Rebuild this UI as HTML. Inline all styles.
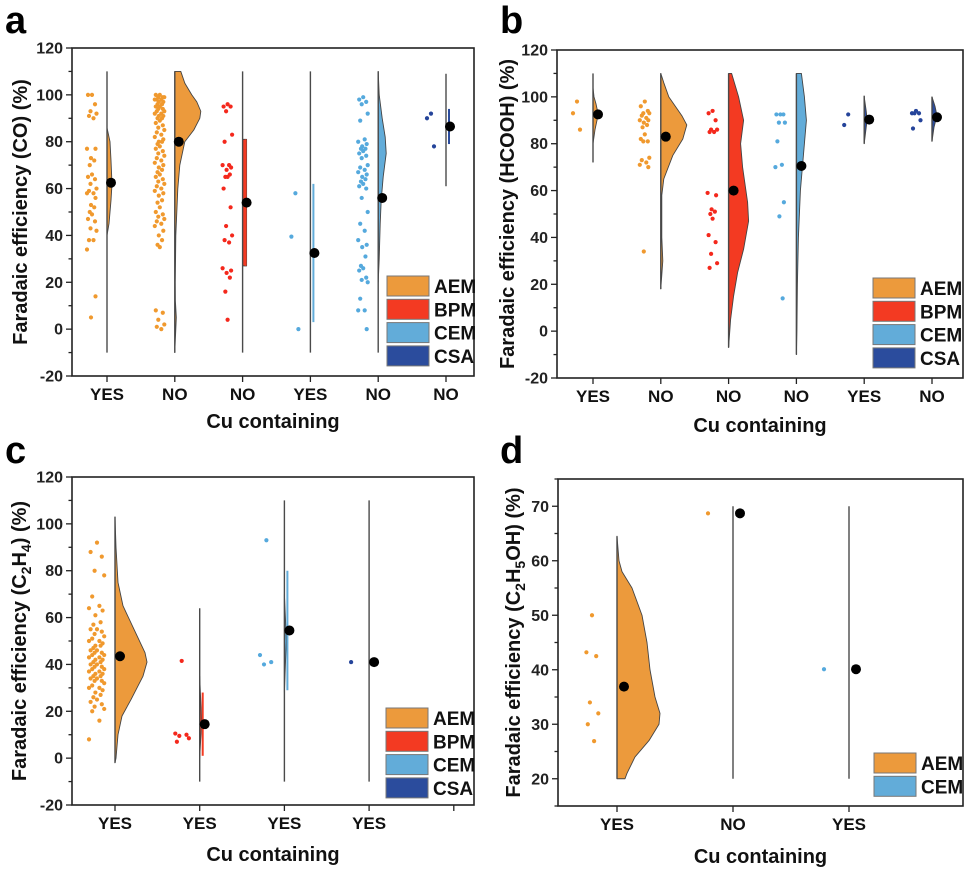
<!DOCTYPE html>
<html><head><meta charset="utf-8"><style>
html,body{margin:0;padding:0;background:#fff;width:969px;height:872px;overflow:hidden}
svg{display:block;font-family:"Liberation Sans",Arial,sans-serif;font-weight:bold}
</style></head><body>
<svg id="fig" width="969" height="872" viewBox="0 0 969 872" xmlns="http://www.w3.org/2000/svg"></svg>
<script>
// ===== Panel a data (CO) =====
const aCats = ['YES','NO','NO','YES','NO','NO'];
const aTypes = ['AEM','AEM','BPM','CEM','CEM','CSA'];
const aMeans = [62.5,80,54,32.5,56,86.5];
const aLineLo = [-10,-10,-10,-10,-10,61];
const aLineHi = [110,110,110,110,110,109];
const aErr = [null,null,[27,81],[3,62],null,[79,94]];
const aPoints = [
 [100,100,96,93,92,91,90,77,77,73,72,70,66,65,64,62,60,59,58,58,56,53,52,50,49,47,46,43,42,38,38,34,14,5],
 [100,100,99,99,99,98,98,98,97,97,96,96,95,95,94,94,93,93,92,92,91,91,90,90,89,88,87,86,85,84,83,82,81,80,80,79,78,77,76,75,74,73,72,71,70,69,68,67,66,65,64,63,62,61,60,59,58,57,55,54,52,50,49,48,47,46,45,44,42,40,38,36,35,8,7,4,2,1,0],
 [96,95,95,93,83,80,70,70,69,68,66,65,65,60,52,44,40,38,37,26,25,24,22,16,4],
 [58,39.5,0],
 [99,98,97,96,92,89,81,80,79,78,77,77,76,75,74,73,70,69,68,67,66,65,64,63,62,61,60,56,50,45,42,38,36,35,31,27,26,25,22,21,20,13,8,8,0],
 [92,90,78]
];
const aViolins = [
 [[40,0],[45,2],[55,4],[62,5],[72,4],[80,3],[86,0]],
 [[-10,0],[0,1],[5,1.5],[12,0.6],[20,0.5],[40,1],[60,3],[70,5],[80,10],[85,19],[90,25],[93,26],[97,22],[100,17],[105,10],[110,6]],
 [[27,0],[27,4],[81,4],[81,0]],
 [],
 [[20,0],[30,1],[45,2],[55,3],[65,5],[75,8],[82,7],[90,4],[100,1],[110,0]],
 []
];
// ===== Panel b data (HCOOH) =====
const bCats = ['YES','NO','NO','NO','YES','NO'];
const bTypes = ['AEM','AEM','BPM','CEM','CSA','CSA'];
const bMeans = [92.5,83,60,70.5,90.3,91.3];
const bLineLo = [72,18,-7,-10,80,81];
const bLineHi = [110,110,110,110,100.5,100];
const bErr = [null,null,null,null,null,null];
const bPoints = [
 [98,93,86],
 [98,96,94,93,93,92,91,90,90,89,88,87,84,82,81,81,74,73,72,71,70,34],
 [94,93,90,86,86,85,85,59,58,52,51,50,48,41,38,33,29,27],
 [92.5,92.5,92.5,89,89,81,71,70,55,49,14],
 [92.5,88],
 [94,93,93,93,90,86.5]
];
const bViolins = [
 [[80,0],[86,2],[90,4],[93,5],[97,3],[100,1],[104,0]],
 [[18,0],[30,2],[40,1],[58,1],[65,3],[75,12],[82,22],[88,26],[92,21],[100,8],[106,3],[110,0]],
 [[-7,0],[5,2],[15,5],[25,9],[35,15],[47,20],[55,19],[70,14],[80,12],[90,15],[100,10],[110,3]],
 [[-10,0],[0,0.5],[20,1],[40,2],[60,4],[70,6],[80,8],[90,10],[100,8],[110,5]],
 [[80,0],[87,2],[90,3],[94,2],[100,0]],
 [[81,0],[87,2],[92,5],[96,3],[100,0]]
];
// ===== Panel c data (C2H4) =====
const cCats = ['YES','YES','YES','YES'];
const cTypes = ['AEM','BPM','CEM','CSA'];
const cMeans = [43.5,14.5,54.5,41];
const cLineLo = [-2,-10,-10,-10];
const cLineHi = [103,64,110,110];
const cErr = [null,[1,28],[29,80],null];
const cPoints = [
 [92,88,86,80,78,69,65,64,63,61,58,57,55,55,54,53,52,51,50,50,49,48,48,47,46,46,45,45,44,44,43,43,42,42,41,41,40,40,39,39,38,38,37,37,36,36,35,35,34,34,33,33,32,31,30,30,29,28,27,26,25,24,23,22,21,20,16,8],
 [41.5,10.5,10,9.5,8.5,7],
 [93,44,41,40],
 [41]
];
const cViolins = [
 [[-2,0],[0,1],[10,3],[18,7],[25,16],[35,28],[41,32],[45,30],[55,19],[65,8],[75,3],[90,1],[103,0]],
 [[0,0],[8,1],[15,2],[25,1],[35,0]],
 [[28,0],[40,1],[50,2],[60,1],[70,0]],
 []
];
// ===== Panel d data (C2H5OH) =====
const dCats = ['YES','NO','YES'];
const dTypes = ['AEM','AEM','CEM'];
const dMeans = [36.9,68.7,40.1];
const dLineLo = [20,20,20];
const dLineHi = [64.5,70,70];
const dErr = [null,null,null];
const dPoints = [[50,43.2,42.5,34,32,30,26.9],[68.7],[40.1]];
const dViolins = [
 [[20,0],[20,8],[21,10],[24,18],[27,32],[30,42],[32,43],[35,38],[40,33],[45,30],[50,25],[55,15],[58,5],[60,2],[64.5,0]],
 [],[]
];

const COLORS = {AEM:'#ec9a3c',BPM:'#f33a22',CEM:'#62acd9',CSA:'#2b4c9d'};
const PTCOL = {AEM:'#f0992e',BPM:'#f4281c',CEM:'#55a9dd',CSA:'#25449a'};
const JIT = [0,-0.8,0.6,-0.3,0.9,-0.6,0.3,-1,0.7,-0.2,0.45,-0.45];
const NS='http://www.w3.org/2000/svg';
const svg=document.getElementById('fig');
function mk(tag,attrs,parent){const e=document.createElementNS(NS,tag);for(const k in attrs)e.setAttribute(k,attrs[k]);(parent||svg).appendChild(e);return e;}

const panels = [
 {id:'a',L:72,R:474,T:48,B:376,ymin:-20,ymax:120,major:20,cx0:107,dx:67.8,nTicks:6,cats:aCats,types:aTypes,means:aMeans,lo:aLineLo,hi:aLineHi,err:aErr,pts:aPoints,vio:aViolins,
  legend:['AEM','BPM','CEM','CSA'],lx:387,ly:276,ytitle:['Faradaic efficiency (CO) (%)'],ytx:20,xlabY:400,xtitY:428,letX:5,letY:33,ptOff:-15,ptSpread:5,meanOff:4},
 {id:'b',L:557,R:963,T:50,B:378,ymin:-20,ymax:120,major:20,cx0:593,dx:67.8,nTicks:6,cats:bCats,types:bTypes,means:bMeans,lo:bLineLo,hi:bLineHi,err:bErr,pts:bPoints,vio:bViolins,
  legend:['AEM','BPM','CEM','CSA'],lx:873,ly:278,ytitle:['Faradaic efficiency (HCOOH) (%)'],ytx:507,xlabY:402,xtitY:432,letX:500,letY:33,ptOff:-16,ptSpread:5,meanOff:5},
 {id:'c',L:72,R:474,T:477,B:805,ymin:-20,ymax:120,major:20,cx0:115,dx:84.7,nTicks:5,cats:cCats,types:cTypes,means:cMeans,lo:cLineLo,hi:cLineHi,err:cErr,pts:cPoints,vio:cViolins,
  legend:['AEM','BPM','CEM','CSA'],lx:386,ly:708,ytitle:'C2H4',ytx:19,xlabY:829,xtitY:861,letX:5,letY:463,ptOff:-18,ptSpread:8,meanOff:5},
 {id:'d',L:558,R:963,T:479,B:806,ymin:15,ymax:75,major:10,cx0:617,dx:116,nTicks:4,cats:dCats,types:dTypes,means:dMeans,lo:dLineLo,hi:dLineHi,err:dErr,pts:dPoints,vio:dViolins,
  legend:['AEM','CEM'],lx:874,ly:753,ytitle:'C2H5OH',ytx:513,xlabY:830,xtitY:863,letX:500,letY:463,ptOff:-25,ptSpread:7,meanOff:7}
];

panels.forEach(p=>{
 const g=mk('g',{});
 
 
 const y=v=>p.B-(v-p.ymin)*(p.B-p.T)/(p.ymax-p.ymin);
 const xc=i=>p.cx0+i*p.dx;
 const let_=mk('text',{x:p.letX,y:p.letY,'font-size':38,fill:'#000'},g);let_.textContent=p.id;
 
 
 // y ticks
 const half=p.major/2;
 for(let v=p.ymin;v<=p.ymax+1e-6;v+=half){
  const isMaj=Math.abs(v/p.major-Math.round(v/p.major))<1e-6;
  mk('line',{x1:p.L-(isMaj?6:3.5),x2:p.L,y1:y(v),y2:y(v),stroke:'#222','stroke-width':1.3},g);
  if(isMaj){const t=mk('text',{x:p.L-9,y:y(v)+5.5,'text-anchor':'end','font-size':16,fill:'#222'},g);t.textContent=Math.round(v);
   
   }
 }
 // x ticks
 for(let i=0;i<p.nTicks;i++){
  const x=xc(i); if(x>p.R+1) continue;
  mk('line',{x1:x,x2:x,y1:p.B,y2:p.B+6,stroke:'#222','stroke-width':1.3},g);
  if(i<p.cats.length){const t=mk('text',{x:x,y:p.xlabY,'text-anchor':'middle','font-size':17,fill:'#111'},g);t.textContent=p.cats[i];
   
   }
 }
 const xt=mk('text',{x:(p.L+p.R)/2,y:p.xtitY,'text-anchor':'middle','font-size':20,fill:'#111'},g);xt.textContent='Cu containing';
 
 
 const cy=(p.T+p.B)/2;
 const yt=mk('text',{x:0,y:0,'text-anchor':'middle','font-size':20,fill:'#111',transform:`translate(${p.ytx+7},${cy}) rotate(-90)`},g);
 
 
 if(Array.isArray(p.ytitle)) yt.textContent=p.ytitle[0];
 else {
  const parts = p.ytitle==='C2H4' ? [['Faradaic efficiency (C',0],['2',1],['H',0],['4',1],[') (%)',0]] : [['Faradaic efficiency (C',0],['2',1],['H',0],['5',1],['OH) (%)',0]];
  let prevSub=false;
  parts.forEach(([s,sub])=>{
   const at={};
   if(sub){at['font-size']=14;at.dy=5;} else if(prevSub){at.dy=-5;}
   const ts=mk('tspan',at,yt);ts.textContent=s;prevSub=!!sub;
  });
 }
 p.cats.forEach((c,i)=>{
  const x=xc(i), tp=p.types[i];
  const sg=mk('g',{},g);
  
  
  const v=p.vio[i];
  if(v.length){
   let d=`M${x},${y(v[0][0])}`;
   v.forEach(([yy,w])=>{d+=` L${x+w},${y(yy)}`;});
   d+=` L${x},${y(v[v.length-1][0])} Z`;
   const vp=mk('path',{d:d,fill:COLORS[tp],stroke:'#444','stroke-width':0.9,'stroke-linejoin':'round'},sg);
   
   
  }
  const ln=mk('line',{x1:x,x2:x,y1:y(p.lo[i]),y2:y(p.hi[i]),stroke:'#4a4a4a','stroke-width':1.4},sg);
  
  
  if(p.err[i]){const e=mk('line',{x1:x+3,x2:x+3,y1:y(p.err[i][0]),y2:y(p.err[i][1]),stroke:COLORS[tp],'stroke-width':2},sg);
   
   }
  p.pts[i].forEach((val,k)=>{
   const pc=mk('circle',{cx:x+p.ptOff+JIT[k%JIT.length]*p.ptSpread,cy:y(val),r:2.1,fill:PTCOL[tp]},sg);
   
   
  });
  const m=mk('circle',{cx:x+p.meanOff,cy:y(p.means[i]),r:5,fill:'#000'},sg);
  
  
 });
 const fr=mk('rect',{x:p.L,y:p.T,width:p.R-p.L,height:p.B-p.T,fill:'none',stroke:'#222','stroke-width':1.6},g);
 
 
 const lg=mk('g',{},g);
 
 
 p.legend.forEach((nm,k)=>{
  const yy=p.ly+k*23.3;
  const r=mk('rect',{x:p.lx,y:yy,width:42,height:20,fill:COLORS[nm],stroke:'#777','stroke-width':1},lg);
  
  
  const t=mk('text',{x:p.lx+47,y:yy+17,'font-size':19,fill:'#111'},lg);t.textContent=nm;
  
  
 });
});
</script>
</body></html>
